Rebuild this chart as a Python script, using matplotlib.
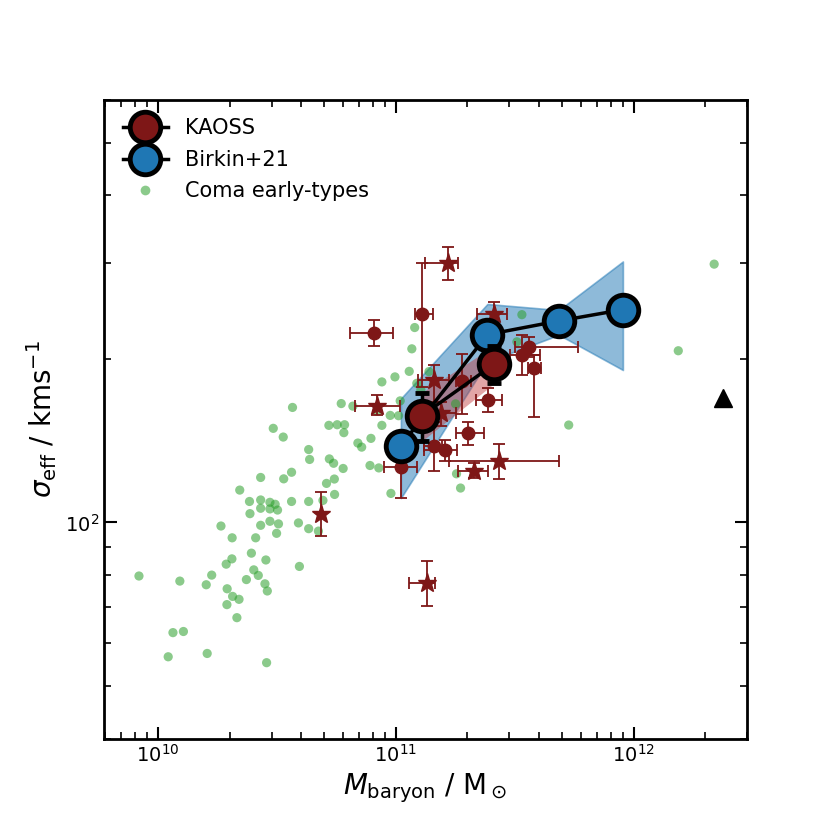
import numpy as np
import matplotlib
matplotlib.use("Agg")
import matplotlib.pyplot as plt
from matplotlib.lines import Line2D
from matplotlib.ticker import NullFormatter

# Coma early-types: log10(M_baryon / Msun), sigma_eff [km/s]
coma_logm = [9.919, 10.091, 10.062, 10.106, 10.042, 10.206, 10.456, 10.202, 10.225, 10.286,
             10.310, 10.290, 10.313, 10.340, 10.289, 10.331, 10.371, 10.392, 10.402, 10.421,
             10.449, 10.459, 10.453, 10.594, 10.264, 10.311, 10.410, 10.431, 10.470, 10.506,
             10.498, 10.386, 10.431, 10.470, 10.502, 10.492, 10.470, 10.431, 10.384, 10.343,
             10.561, 10.633, 10.590, 10.633, 10.674, 10.693, 10.742, 10.708, 10.741, 10.528,
             10.561, 10.431, 10.720, 10.738, 10.778, 10.637, 10.633, 10.840, 10.856, 10.891,
             10.928, 10.979, 11.255, 11.272, 10.565, 10.484, 10.526, 10.770, 10.819, 10.718,
             10.753, 10.784, 10.781, 10.895, 10.941, 10.996, 10.941, 10.976, 11.011, 10.923,
             11.018, 11.079, 11.067, 11.056, 11.088, 11.139, 11.251, 11.530, 11.509, 11.727,
             12.339, 12.188, 11.105]
coma_sigma = [79.7, 78.0, 62.7, 63.0, 56.6, 57.4, 55.2, 76.8, 80.0, 83.8,
              85.7, 75.5, 73.1, 72.2, 70.6, 66.8, 78.5, 87.8, 81.8, 79.9,
              77.1, 74.8, 85.3, 83.0, 98.5, 93.7, 93.7, 98.8, 100.5, 99.4,
              95.5, 103.8, 106.2, 105.9, 105.4, 108.0, 108.9, 110.0, 109.3, 114.7,
              109.3, 109.3, 99.8, 97.4, 96.4, 109.8, 112.6, 118.0, 120.2, 120.3,
              123.7, 121.0, 130.9, 128.5, 125.7, 130.6, 136.2, 140.0, 137.6, 127.3,
              126.0, 113.1, 122.9, 115.7, 162.8, 149.0, 143.6, 165.5, 163.7, 150.9,
              151.3, 151.3, 146.3, 142.8, 181.4, 185.3, 150.9, 157.4, 157.2, 160.1,
              167.4, 228.4, 208.7, 189.7, 180.3, 189.5, 165.3, 241.2, 215.0, 151.1,
              298.8, 207.0, 175.4]

# KAOSS individual galaxies (circles)
kc_logm = [11.109, 10.909, 11.279, 11.021, 11.160, 11.205, 11.303, 11.388, 11.530, 11.558, 11.583]
kc_logm_lo = [11.079, 10.808, 11.251, 10.949, 11.117, 11.118, 11.251, 11.339, 11.481, 11.502, 11.556]
kc_logm_hi = [11.154, 10.989, 11.314, 11.088, 11.192, 11.255, 11.372, 11.446, 11.607, 11.767, 11.611]
kc_sigma = [241.6, 223.6, 182.1, 126.4, 138.1, 135.8, 146.1, 168.1, 203.3, 210.5, 192.7]
kc_sigma_lo = [177.8, 211.1, 158.4, 111.0, 124.3, 129.6, 139.1, 159.6, 186.8, 201.8, 156.1]
kc_sigma_hi = [300.0, 236.2, 204.6, 141.1, 152.8, 142.1, 152.8, 176.6, 221.2, 219.6, 203.5]

# KAOSS individual galaxies (stars)
ks_logm = [11.221, 10.921, 10.686, 11.130, 11.328, 11.432, 11.414, 11.160, 11.188]
ks_logm_lo = [11.123, 10.826, 10.686, 11.056, 11.261, 11.223, 11.342, 11.091, 11.121]
ks_logm_hi = [11.261, 11.017, 10.686, 11.164, 11.388, 11.687, 11.467, 11.223, 11.251]
ks_sigma = [300.4, 164.1, 103.8, 77.4, 124.6, 129.6, 242.2, 182.7, 158.7]
ks_sigma_lo = [279.6, 157.4, 94.5, 70.3, 120.6, 120.0, 226.1, 166.9, 150.2]
ks_sigma_hi = [321.9, 171.7, 113.7, 85.0, 128.8, 139.4, 254.5, 194.9, 166.9]

# KAOSS binned
kb_logm = [11.109, 11.414]
kb_sigma = [157.2, 195.7]
kb_sigma_lo = [141.1, 180.3]
kb_sigma_hi = [173.4, 211.4]

# Birkin+21 binned
bk_logm = [11.021, 11.385, 11.686, 11.955]
bk_sigma = [138.5, 221.7, 234.9, 246.4]
bk_sigma_lo = [110.9, 197.6, 221.4, 190.8]
bk_sigma_hi = [169.1, 252.4, 246.0, 302.2]

# lone triangle
tri_logm = [12.377]
tri_sigma = [169.8]

KRED = "#7e1717"


def asym(vals, lo, hi):
    vals, lo, hi = np.asarray(vals), np.asarray(lo), np.asarray(hi)
    return [vals - lo, hi - vals]


def draw():
    fig = plt.figure(figsize=(8.3, 8.3), dpi=100)
    ax = fig.add_subplot(111)

    ax.scatter(10**np.array(coma_logm), coma_sigma, s=44, color="tab:green", alpha=0.55,
               edgecolor="none", zorder=2)

    # shaded bands
    ax.fill_between(10**np.array(bk_logm), bk_sigma_lo, bk_sigma_hi, color="tab:blue",
                    alpha=0.5, lw=1.2, zorder=1)
    ax.fill_between(10**np.array(kb_logm), kb_sigma_lo, kb_sigma_hi, color="#c0393b",
                    alpha=0.45, lw=0, zorder=1.5)

    m = 10**np.array(kc_logm)
    ax.errorbar(m, kc_sigma, xerr=asym(m, 10**np.array(kc_logm_lo), 10**np.array(kc_logm_hi)),
                yerr=asym(kc_sigma, kc_sigma_lo, kc_sigma_hi), fmt="o", ms=9, color=KRED,
                elinewidth=1.3, capsize=4, capthick=1.3, zorder=3)
    m = 10**np.array(ks_logm)
    ax.errorbar(m, ks_sigma, xerr=asym(m, 10**np.array(ks_logm_lo), 10**np.array(ks_logm_hi)),
                yerr=asym(ks_sigma, ks_sigma_lo, ks_sigma_hi), fmt="*", ms=14, color=KRED,
                elinewidth=1.3, capsize=4, capthick=1.3, zorder=3)

    ax.errorbar(10**np.array(kb_logm), kb_sigma, yerr=asym(kb_sigma, kb_sigma_lo, kb_sigma_hi),
                fmt="o-", color="k", mfc=KRED, mec="k", ms=22, mew=3.5, lw=2.5,
                elinewidth=2.5, capsize=5, capthick=4, zorder=6)
    ax.plot(10**np.array(bk_logm), bk_sigma, "o-", color="k", mfc="tab:blue", mec="k",
            ms=22, mew=3.5, lw=2.5, zorder=5)

    ax.plot(10**np.array(tri_logm), tri_sigma, "^", color="k", ms=13, zorder=4)

    ax.set_xscale("log")
    ax.set_yscale("log")
    ax.set_xlim(5.9e9, 3.0e12)
    ax.set_ylim(40, 600)
    ax.yaxis.set_minor_formatter(NullFormatter())
    ax.tick_params(which="both", direction="in", top=True, right=True, labelsize=14)
    ax.tick_params(which="major", length=9, width=1.5)
    ax.tick_params(which="minor", length=5, width=1.2)
    for sp in ax.spines.values():
        sp.set_linewidth(2)

    ax.set_xlabel(r"$M_{\rm baryon}$ / M$_\odot$", fontsize=20)
    ax.set_ylabel(r"$\sigma_{\rm eff}$ / kms$^{-1}$", fontsize=20)

    handles = [
        Line2D([], [], marker="o", color="k", mfc=KRED, mec="k", ms=22, mew=3.5, lw=2.5),
        Line2D([], [], marker="o", color="k", mfc="tab:blue", mec="k", ms=22, mew=3.5, lw=2.5),
        Line2D([], [], marker="o", ls="none", color="tab:green", alpha=0.55, ms=7, mec="none"),
    ]
    ax.legend(handles, ["KAOSS", "Birkin+21", "Coma early-types"], loc="upper left",
              frameon=False, fontsize=15, labelspacing=0.55, handlelength=2.2,
              handletextpad=0.8)

    fig.savefig("out.png", dpi=100)


def main():
    draw()


if __name__ == "__main__":
    main()
